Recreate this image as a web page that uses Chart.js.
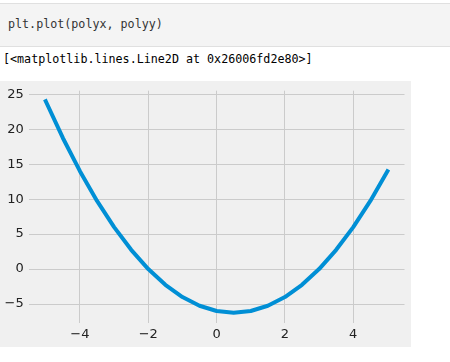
<!DOCTYPE html>
<html>
<head>
<meta charset="utf-8">
<script src="https://cdn.jsdelivr.net/npm/chart.js@4.4.1/dist/chart.umd.min.js"></script>
<style>
  html, body { margin: 0; padding: 0; background: #ffffff; width: 450px; height: 362px; overflow: hidden; }
  .cell {
    position: absolute; left: 0; top: 3px; width: 450px; height: 42px;
    background: #f4f4f4; border-top: 1px solid #e0e0e0; border-bottom: 1px solid #e0e0e0;
  }
  .mono { font-family: "DejaVu Sans Mono", monospace; font-size: 11.7px; color: #333; white-space: pre; position: absolute; }
  #code { left: 8px; top: 17px; }
  #out { left: 3px; top: 52px; color: #000; }
  #fig { position: absolute; left: 0; top: 81px; width: 411px; height: 266px; background: #f0f0f0; }
</style>
</head>
<body>
<div class="cell"></div>
<div class="mono" id="code">plt.plot(polyx, polyy)</div>
<div class="mono" id="out">[&lt;matplotlib.lines.Line2D at 0x26006fd2e80&gt;]</div>
<div id="fig"><canvas id="chart" width="411" height="266"></canvas></div>
<script>
// polyx / polyy
const polyx = [-5, -4.5, -4, -3.5, -3, -2.5, -2, -1.5, -1, -0.5, 0, 0.5, 1, 1.5, 2, 2.5, 3, 3.5, 4, 4.5, 5]
const polyy = [24, 18.75, 14, 9.75, 6, 2.75, 0, -2.25, -4, -5.25, -6, -6.25, -6, -5.25, -4, -2.25, 0, 2.75, 6, 9.75, 14]
const xTicks = [-4, -2, 0, 2, 4]
const yTicks = [-5, 0, 5, 10, 15, 20, 25]

// matplotlib prints a real minus sign
const minus = v => String(v).replace('-', '\u2212')
const tickFont = { family: 'DejaVu Sans', size: 13 }

new Chart(document.getElementById('chart'), {
  type: 'line',
  data: {
    datasets: [{
      data: polyx.map((x, i) => ({ x: x, y: polyy[i] })),
      borderColor: '#008fd5',
      borderWidth: 4,
      borderCapStyle: 'square',
      borderJoinStyle: 'round',
      pointRadius: 0,
      tension: 0,
      fill: false
    }]
  },
  options: {
    responsive: false,
    animation: false,
    layout: { padding: { top: 9.7, right: 6.5, left: 0, bottom: 0 } },
    plugins: { legend: { display: false }, tooltip: { enabled: false } },
    scales: {
      x: {
        type: 'linear',
        min: -5.5,
        max: 5.5,
        afterBuildTicks: s => { s.ticks = xTicks.map(v => ({ value: v })) },
        afterFit: s => { s.height = 23.7 },
        grid: { color: '#cbcbcb', lineWidth: 1, drawTicks: false },
        border: { display: false },
        ticks: { color: '#222', font: tickFont, padding: 4, maxRotation: 0, callback: v => minus(v) }
      },
      y: {
        min: -7.76,
        max: 25.51,
        afterBuildTicks: s => { s.ticks = yTicks.map(v => ({ value: v })) },
        afterFit: s => { s.width = 28.7; s.paddingTop = 0; s.paddingBottom = 0 },
        grid: { color: '#cbcbcb', lineWidth: 1, drawTicks: false },
        border: { display: false },
        ticks: { color: '#222', font: tickFont, padding: 5, callback: v => minus(v) }
      }
    }
  }
})
</script>
</body>
</html>
